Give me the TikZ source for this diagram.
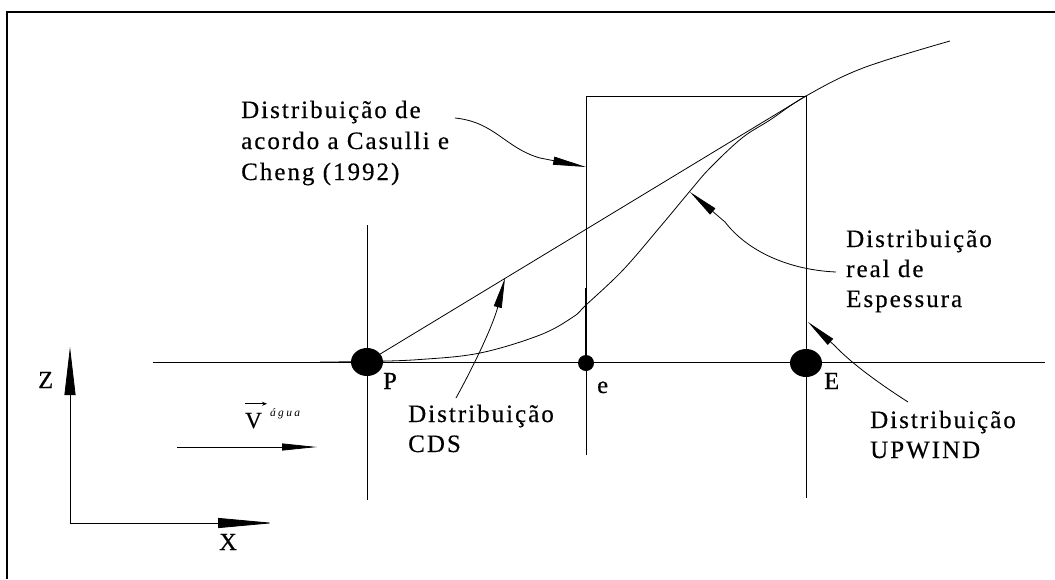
\documentclass[tikz,border=0pt]{standalone}
\usepackage{fontspec}
\setmainfont{Liberation Serif}[FakeBold=0.4]
\newfontfamily\lbl[LetterSpace=8,FakeBold=0.4]{Liberation Serif}
\newfontfamily\suplbl[LetterSpace=20]{Liberation Serif}
\usetikzlibrary{arrows.meta,shapes.geometric}
\begin{document}
\begin{tikzpicture}[x=1pt,y=-1pt,
  ln/.style={line width=0.8pt},
  bigdot/.style={ellipse,fill=black,inner sep=0pt,minimum width=32pt,minimum height=28pt},
  smalldot/.style={circle,fill=black,inner sep=0pt,minimum size=16pt},
  lbltext/.style={anchor=base west,inner sep=0pt,font=\lbl\fontsize{25}{31}\selectfont},
  lettertext/.style={anchor=base west,inner sep=0pt,font=\fontsize{24.5}{29}\selectfont},
  annot/.style={line width=0.8pt,-{Triangle[length=30pt,width=8pt]}},
]
\useasboundingbox (0,0) rectangle (1055,579);
% frame (left and top edges only)
\draw[line width=2pt] (7,579) -- (7,12) -- (1055,12);

% grid lines
\coordinate (axL) at (153,362);
\coordinate (axR) at (1045,362);
\coordinate (Ptop) at (367,225);
\coordinate (Pbot) at (367,500);
\coordinate (eb) at (586,455);
\coordinate (rtl) at (586,96);
\coordinate (rtr) at (806,96);
\coordinate (Eb) at (806,498);
\draw[ln] (axL) -- (axR);
\draw[ln] (Ptop) -- (Pbot);
\draw[ln] (eb) -- (rtl) -- (rtr) -- (Eb);
\draw[line width=0.5pt] (585.3,288) -- (585.3,362);
\draw[line width=0.5pt] (806.7,222) -- (806.7,362);

% real distribution curve
\draw[ln] plot[smooth,tension=0.6] coordinates {(320,362) (367,361.5) (420,359.5) (480,353) (540,335) (573,317) (586,305) (623,270) (660,227) (690,191) (710,168) (742,138) (770,120) (806,96) (863,68) (950,41)};

% points
\node[bigdot] (P) at (367,362) {};
\node[smalldot] (e) at (586,363) {};
\node[bigdot] (E) at (806,363) {};

% Casulli-Cheng straight distribution
\draw[ln] (P) -- (rtr);

% point labels
\node[lettertext] (Plbl) at (383,389) {P};
\node[lettertext] (elbl) at (597,393) {e};
\node[lettertext] (Elbl) at (824,389) {E};

% axes
\coordinate (O) at (70,523);
\coordinate (zT) at (70,347);
\coordinate (xT) at (274,523);
\draw[ln,-{Triangle[length=48pt,width=11pt]}] (O) -- (zT);
\draw[ln,-{Triangle[length=56pt,width=10pt]}] (O) -- (xT);
\node[lettertext] (Z) at (38,388) {Z};
\node[lettertext] (X) at (219,550) {X};

% velocity
\coordinate (vS) at (177,447);
\coordinate (vT) at (317,447);
\draw[ln,-{Triangle[length=35pt,width=7pt]}] (vS) -- (vT);
\node[anchor=base west,inner sep=0pt,font=\fontsize{23}{28}\selectfont] (V) at (245,428) {V};
\draw[line width=0.8pt,-{Stealth[length=5pt,width=4pt]}] ([yshift=9pt]V.north west) -- ([xshift=5pt,yshift=9pt]V.north east);
\node[anchor=base west,inner sep=0pt,font=\suplbl\itshape\fontsize{11.5}{13}\selectfont] (agua) at (270,416) {água};

% annotation: Casulli e Cheng
\node[lbltext] (cas1) at (241,118) {Distribuição de};
\node[lbltext] (cas2) at (241,149) {acordo a Casulli e};
\node[lbltext] (cas3) at (241,180) {Cheng (1992)};
\coordinate (casS) at (455,118);
\coordinate (casT) at (586,167);
\draw[line width=0.8pt,-{Triangle[length=33pt,width=8pt]}] (casS) .. controls (495,122) and (505,148) .. (540,158) -- (casT);

% annotation: CDS
\node[lbltext] (cds1) at (408,422) {Distribuição};
\node[lbltext] (cds2) at (408,452) {CDS};
\coordinate (cdsS) at (456,398);
\coordinate (cdsT) at (505,278);
\draw[annot] (cdsS) .. controls (478,358) and (494,322) .. (cdsT);

% annotation: real
\node[lbltext] (real1) at (846,247) {Distribuição};
\node[lbltext] (real2) at (846,277) {real de};
\node[lbltext] (real3) at (846,307) {Espessura};
\coordinate (realS) at (836,272);
\coordinate (realT) at (690,192);
\draw[annot] (realS) .. controls (790,270) and (748,252) .. (725,222) -- (realT);

% annotation: UPWIND
\node[lbltext] (up1) at (870,428) {Distribuição};
\node[lbltext] (up2) at (870,458) {UPWIND};
\coordinate (upS) at (908,402);
\coordinate (upT) at (808,322);
\draw[annot] (upS) .. controls (880,384) and (852,364) .. (834,345) -- (upT);
\end{tikzpicture}
\end{document}
